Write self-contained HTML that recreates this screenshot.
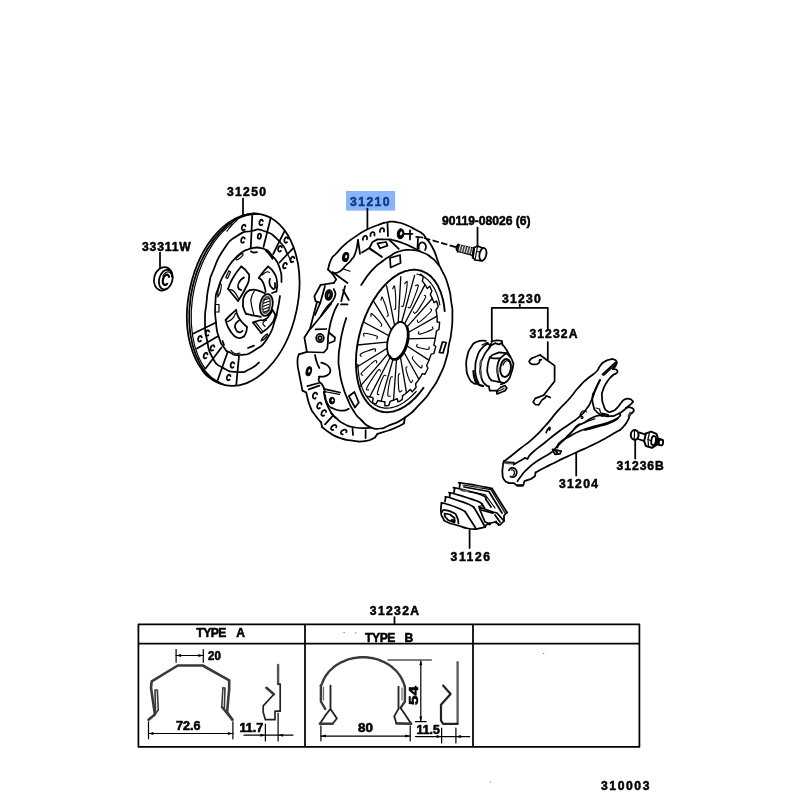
<!DOCTYPE html>
<html><head><meta charset="utf-8">
<style>
html,body{margin:0;padding:0;background:#fff;}
body{width:800px;height:800px;overflow:hidden;font-family:"Liberation Sans",sans-serif;}
svg{display:block;position:absolute;left:0;top:0;will-change:transform;}
.l{fill:none;stroke:#000;stroke-width:1.75;stroke-linecap:round;stroke-linejoin:round;}
.t{fill:none;stroke:#000;stroke-width:1.2;stroke-linecap:round;stroke-linejoin:round;}
.k{fill:none;stroke:#000;stroke-width:2.2;stroke-linecap:round;stroke-linejoin:round;}
.w{fill:#fff;stroke:#000;stroke-width:1.75;stroke-linecap:round;stroke-linejoin:round;}
.b{fill:#000;stroke:#000;stroke-width:1;stroke-linejoin:round;}
.g{fill:none;stroke:#555;stroke-width:2;stroke-linecap:round;stroke-linejoin:round;}
text{font-family:"Liberation Sans",sans-serif;font-weight:bold;font-size:13.5px;fill:#000;stroke:#000;stroke-width:0.55px;}
</style></head><body>
<svg width="800" height="800" viewBox="0 0 800 800">
<!-- labels -->
<rect x="346" y="191" width="49.1" height="19.6" fill="#8ab4f8"/>
<text transform="translate(227,196.3) scale(0.9,1)" textLength="43.3" lengthAdjust="spacing">31250</text>
<text transform="translate(350.1,206.3) scale(0.9,1)" textLength="43.8" lengthAdjust="spacing" style="fill:#0d3b8c;stroke:#0d3b8c">31210</text>
<text transform="translate(142,251) scale(0.9,1)" textLength="54.2" lengthAdjust="spacing">33311W</text>
<text transform="translate(442,225.4) scale(0.9,1)" textLength="98.3" lengthAdjust="spacing">90119-08026 (6)</text>
<text transform="translate(501.9,303) scale(0.9,1)" textLength="43.2" lengthAdjust="spacing">31230</text>
<text transform="translate(529.4,338.4) scale(0.9,1)" textLength="53.4" lengthAdjust="spacing">31232A</text>
<text transform="translate(558.9,488.4) scale(0.9,1)" textLength="43.4" lengthAdjust="spacing">31204</text>
<text transform="translate(616.6,470.4) scale(0.9,1)" textLength="52.4" lengthAdjust="spacing">31236B</text>
<text transform="translate(450.6,560.6) scale(0.9,1)" textLength="43.8" lengthAdjust="spacing">31126</text>
<text transform="translate(369.8,615) scale(0.9,1)" textLength="54.7" lengthAdjust="spacing">31232A</text>
<text transform="translate(196.3,637) scale(0.9,1)" textLength="33.3" lengthAdjust="spacing">TYPE</text>
<text transform="translate(236.3,637) scale(0.9,1)" textLength="9.1" lengthAdjust="spacing">A</text>
<text transform="translate(365.1,641.6) scale(0.9,1)" textLength="33.6" lengthAdjust="spacing">TYPE</text>
<text transform="translate(404.5,641.6) scale(0.9,1)" textLength="8.7" lengthAdjust="spacing">B</text>
<text transform="translate(601,789.6) scale(0.9,1)" textLength="53.8" lengthAdjust="spacing">310003</text>
<path class="l" d="M243 198.5L243 216"/>
<path class="l" d="M367.4 208.5L367.4 228.5"/>
<path class="l" d="M477.5 227.5L477.5 246.5"/>
<!-- table -->
<path class="l" d="M138.4 624.4H639.4V746.9H138.4Z M138.4 643.5H639.4 M305 624.4V746.9 M473 624.4V746.9"/>
<path class="l" d="M394.5 617L394.5 624"/>
<!-- disc -->
<ellipse class="l" cx="243.2" cy="299.8" rx="54.4" ry="87.3" transform="rotate(12 243.2 299.8)"/>
<path class="l" d="M222.8 384.2C220.4 383 220.2 383.5 215.6 380.6C210.9 377.6 213.1 379.3 209 375.3C204.8 371.2 206.7 373.4 203.1 368.4C199.6 363.3 201.2 366 198.2 360C195.3 354 196.6 357.1 194.3 350.4C192.1 343.6 193 347.1 191.5 339.7C190 332.3 190.5 336 189.8 328.2C189.1 320.3 189.2 324.2 189.3 316C189.3 307.8 189.1 311.9 190 303.6C190.8 295.2 190.2 299.3 191.8 291C193.5 282.7 192.5 286.8 194.8 278.7C197.2 270.6 195.9 274.5 198.9 266.8C202 259.1 200.3 262.8 204 255.6C207.6 248.5 205.7 251.8 209.9 245.4C214.1 238.9 211.9 241.9 216.6 236.3C221.3 230.7 218.9 233.2 223.9 228.6C229 223.9 226.4 225.9 231.7 222.4C237 218.8 234.3 220.3 239.8 217.8C245.2 215.3 242.5 216.3 247.9 215C253.4 213.7 253.4 214.3 256.1 214"/>
<path class="t" d="M205.2 368.6C203.6 365.9 203.2 366.3 200.3 360.4C197.4 354.5 198.7 357.6 196.4 351C194.2 344.3 195.1 347.7 193.6 340.5C192.1 333.2 192.6 336.9 191.9 329.2C191.1 321.5 191.3 325.3 191.3 317.3C191.3 309.3 191.1 313.3 191.8 305.1C192.6 296.9 192 300.9 193.5 292.7C195.1 284.6 194.1 288.5 196.4 280.5C198.6 272.6 197.3 276.4 200.2 268.8C203.1 261.1 201.5 264.8 205.1 257.6C208.6 250.5 206.7 253.9 210.8 247.4C214.8 240.9 212.7 243.9 217.2 238.2C221.7 232.5 219.4 235.1 224.3 230.3C229.2 225.5 229.3 226 231.8 223.9"/>
<path class="t" d="M227 231C228.7 229 228.7 228.5 232 225C235.3 221.5 235.3 221.9 237 220.4"/>
<path class="k" d="M241.7 216.2C244.5 215.5 244.6 214.8 250 214C255.4 213.2 255.3 213.9 258 213.9"/>
<path class="k" d="M202.5 370C204 371.8 203.7 372.5 207 375.5C210.3 378.5 210.7 377.8 212.5 379"/>
<path class="l" d="M259 362.5C256 364.7 257.2 365.8 250 369C242.8 372.2 246.7 372.5 237.5 372C228.3 371.5 230.8 372.3 222.5 367.5C214.2 362.7 217.7 366.7 212.5 357.5C207.3 348.3 209.5 351.8 207 340C204.5 328.2 205.2 334.5 205 322C204.8 309.5 205.2 314.8 206.5 302.5C207.8 290.2 206.7 295.8 209 285C211.3 274.2 208.5 282 213.5 270C218.5 258 216.2 260.3 224 249C231.8 237.7 227.8 242 237 236C246.2 230 242.5 232.7 251.5 231C260.5 229.3 254.8 227.7 264 231C273.2 234.3 271.2 233.3 279 241C286.8 248.7 284.7 249.7 287.5 254"/>
<path class="l" d="M250 248.5C254.2 248.5 255 246 262.5 248.5C270 251 266.7 249.2 272.5 256C278.3 262.8 277 260.3 280 269C283 277.7 281 277.7 281.5 282"/>
<path class="l" d="M280 296C279.2 300.7 279.2 302 277.5 310C275.8 318 278.3 310.7 275 320C271.7 329.3 274.2 328 267.5 338C260.8 348 264.2 344.3 255 350C245.8 355.7 248.3 354.2 240 355C231.7 355.8 235.3 355 230 352.5C224.7 350 227.7 352.5 224 347.5C220.3 342.5 221.7 345.8 219 337.5C216.3 329.2 217.2 334.2 216 322.5C214.8 310.8 214.6 314.2 215.4 302.5C216.2 290.8 215 298 218.5 287.5C222 277 219.7 281.5 226 271C232.3 260.5 229.5 263.5 237.5 256C245.5 248.5 245.8 251 250 248.5"/>
<path class="k" d="M266 250.5C267.2 251.7 267.3 251.3 269.5 254C271.7 256.7 271.5 257 272.5 258.5"/>
<path class="l" d="M252.3 214.5L250.8 247.5"/>
<path class="l" d="M270.8 217.5L263.5 247"/>
<path class="l" d="M284.6 230.8L273.2 254"/>
<path class="l" d="M293.2 248.2L279.5 262.5"/>
<path class="t" d="M287.5 254L289.5 258L291 262.5"/>
<path class="l" d="M193.5 333.5L216 322.5"/>
<path class="l" d="M197 348.5L217.5 336.5"/>
<path class="l" d="M205.5 368.5L221.5 347.5"/>
<path class="l" d="M217.5 380.5L227.5 352.5"/>
<path class="l" d="M236.3 384.5L239 356"/>
<path class="l" d="M244.6 229.6C244.2 229.8 244.2 230.1 243.5 230.2C242.8 230.3 243 230.4 242.5 229.9C241.9 229.4 242.1 229.6 241.9 228.7C241.8 227.7 241.7 228.1 242 227C242.3 226 242.1 226.3 242.7 225.6C243.3 224.8 243.1 225 243.8 224.8C244.6 224.6 244.3 224.6 244.9 225C245.5 225.4 245.3 225.7 245.5 226.1"/>
<path class="l" d="M262.3 224.5C261.9 224.8 261.9 225.1 261.2 225.2C260.5 225.4 260.8 225.5 260.2 225C259.6 224.5 259.8 224.8 259.5 223.8C259.3 222.9 259.3 223.2 259.5 222.2C259.7 221.1 259.5 221.5 260.1 220.7C260.6 219.9 260.4 220.1 261.1 219.8C261.8 219.6 261.6 219.5 262.2 219.9C262.8 220.3 262.7 220.6 262.9 221"/>
<path class="l" d="M243.9 242.1C243.5 242.3 243.5 242.6 242.8 242.7C242 242.8 242.3 242.9 241.7 242.4C241.2 241.9 241.3 242.1 241.2 241.2C241 240.2 241 240.6 241.3 239.5C241.5 238.5 241.4 238.8 242 238.1C242.6 237.3 242.4 237.5 243.1 237.3C243.8 237.1 243.6 237.1 244.1 237.5C244.7 237.9 244.6 238.2 244.8 238.6"/>
<path class="l" d="M287.1 242.1C286.7 242.3 286.7 242.6 286 242.7C285.3 242.8 285.5 242.9 285 242.4C284.4 241.9 284.6 242.1 284.4 241.2C284.3 240.2 284.2 240.6 284.5 239.5C284.8 238.5 284.6 238.8 285.2 238.1C285.8 237.3 285.6 237.5 286.3 237.3C287.1 237.1 286.8 237.1 287.4 237.5C288 237.9 287.8 238.2 288 238.6"/>
<path class="l" d="M280.9 250.8C280.5 251.1 280.5 251.4 279.8 251.5C279 251.6 279.3 251.7 278.7 251.1C278.2 250.6 278.3 250.9 278.2 249.9C278 249 278 249.3 278.3 248.3C278.5 247.2 278.4 247.6 279 246.8C279.6 246.1 279.4 246.2 280.1 246C280.8 245.9 280.6 245.8 281.1 246.3C281.7 246.7 281.6 247 281.8 247.4"/>
<path class="l" d="M293.2 261.6C292.8 261.7 292.7 262.1 292 262.1C291.3 262.1 291.5 262.2 291 261.7C290.5 261.1 290.6 261.4 290.6 260.4C290.5 259.4 290.4 259.8 290.8 258.8C291.2 257.8 291 258.1 291.7 257.4C292.3 256.7 292.1 256.8 292.8 256.7C293.6 256.6 293.3 256.5 293.9 257C294.4 257.5 294.2 257.8 294.4 258.2"/>
<path class="l" d="M285.7 267.8C285.3 267.9 285.2 268.3 284.5 268.3C283.8 268.3 284 268.4 283.5 267.9C283 267.3 283.1 267.6 283.1 266.6C283 265.6 282.9 266 283.3 265C283.7 264 283.5 264.3 284.2 263.6C284.8 262.9 284.6 263 285.3 262.9C286.1 262.8 285.8 262.7 286.4 263.2C286.9 263.7 286.7 264 286.9 264.4"/>
<path class="l" d="M200.9 340.8C200.5 341.1 200.5 341.4 199.8 341.5C199 341.6 199.3 341.7 198.7 341.1C198.2 340.6 198.3 340.9 198.2 339.9C198 339 198 339.3 198.3 338.3C198.5 337.2 198.4 337.6 199 336.8C199.6 336.1 199.4 336.2 200.1 336C200.8 335.9 200.6 335.8 201.1 336.3C201.7 336.7 201.6 337 201.8 337.4"/>
<path class="l" d="M208.4 335.1C208 335.3 208 335.6 207.2 335.7C206.5 335.8 206.8 335.9 206.2 335.4C205.7 334.9 205.8 335.1 205.7 334.2C205.5 333.2 205.5 333.6 205.8 332.5C206 331.5 205.9 331.8 206.5 331.1C207.1 330.3 206.9 330.5 207.6 330.3C208.3 330.1 208.1 330.1 208.6 330.5C209.2 330.9 209.1 331.2 209.3 331.6"/>
<path class="l" d="M206.3 357.8C205.9 357.9 205.8 358.3 205.1 358.3C204.4 358.3 204.6 358.4 204.1 357.9C203.6 357.3 203.7 357.6 203.7 356.6C203.6 355.6 203.5 356 203.9 355C204.3 354 204.1 354.3 204.8 353.6C205.4 352.9 205.2 353 205.9 352.9C206.7 352.8 206.4 352.7 207 353.2C207.5 353.7 207.3 354 207.5 354.4"/>
<path class="l" d="M213.2 350.2C212.8 350.3 212.7 350.7 212 350.7C211.3 350.7 211.5 350.8 211 350.3C210.5 349.7 210.6 350 210.6 349C210.5 348 210.4 348.4 210.8 347.4C211.2 346.4 211 346.7 211.7 346C212.3 345.3 212.1 345.4 212.8 345.3C213.6 345.2 213.3 345.1 213.9 345.6C214.4 346.1 214.2 346.4 214.4 346.8"/>
<path class="l" d="M233.5 367C233.2 367.3 233.2 367.6 232.5 367.7C231.8 367.9 232 368 231.4 367.5C230.9 367 231 367.3 230.8 366.3C230.5 365.4 230.5 365.7 230.7 364.7C230.9 363.6 230.8 364 231.3 363.2C231.9 362.4 231.7 362.6 232.4 362.3C233.1 362.1 232.8 362 233.4 362.4C234 362.8 233.9 363.1 234.2 363.5"/>
<path class="l" d="M229.6 379.6C229.2 379.8 229.2 380.1 228.5 380.2C227.8 380.3 228 380.4 227.5 379.9C226.9 379.4 227.1 379.6 226.9 378.7C226.8 377.7 226.7 378.1 227 377C227.3 376 227.1 376.3 227.7 375.6C228.3 374.8 228.1 375 228.8 374.8C229.6 374.6 229.3 374.6 229.9 375C230.5 375.4 230.3 375.7 230.5 376.1"/>
<ellipse class="l" cx="259.4" cy="236.2" rx="1.6" ry="2.6" transform="rotate(10 259.4 236.2)"/>
<path class="l" d="M250.8 251.3L253.5 252.6L257 252.2"/>
<ellipse class="t" cx="239.5" cy="256.8" rx="1.3" ry="4.5" transform="rotate(50 239.5 256.8)"/>
<path class="t" d="M225.8 277.5L228.8 270.8L230.5 272L227.5 278.5Z"/>
<path class="t" d="M217.8 297C218 294.7 217.3 294.3 218.3 290C219.3 285.7 220.1 283.7 220.8 284C221.5 284.3 221.5 286.7 220.5 291C219.5 295.3 218.7 295 217.8 297"/>
<path class="t" d="M215.6 304.5L219 304.5L219 312L215.8 312"/>
<path class="l" d="M222.5 341L224 345"/>
<path class="t" d="M231 350.5C232.3 351.5 232 352.7 235 353.5C238 354.3 238.3 353.2 240 353"/>
<path class="l" d="M248 348L254 345.6"/>
<path class="t" d="M261 341C262.3 340.2 262.6 340.8 264.8 338.5C267 336.2 267.9 334.5 267.5 334C267.1 333.5 265.7 334.7 263.5 337C261.3 339.3 261.8 339.7 261 341"/>
<path class="l" d="M241.2 266.5C243.2 268.3 244.4 268.1 247 271.9C249.6 275.7 249.5 272.6 249 278C248.5 283.4 249.3 280.3 245.6 288C241.9 295.7 240.5 296.7 238 301"/>
<path class="l" d="M238 301L228 288.8"/>
<path class="l" d="M228 288.8C229.8 284.8 229.1 284.4 233.5 277C237.9 269.6 238.7 270 241.2 266.5"/>
<path class="t" d="M229.5 289.5C231 290.2 231 288.5 234 291.5C237 294.5 237 296.2 238.5 298.5"/>
<path class="l" d="M244 277.5C242.5 278.8 241.5 278.2 239.6 281.5C237.7 284.8 237.6 284.7 238.2 287.5C238.8 290.3 240.2 289.2 241.2 290"/>
<path class="l" d="M258.8 278C260.3 275.8 260.4 275.3 263.5 271.5C266.6 267.7 266.5 268.2 268 266.5"/>
<path class="l" d="M268 266.5C269.9 268.5 270.8 267.5 273.8 272.5C276.8 277.5 276.1 275.2 277 281.5C277.9 287.8 276.6 288.2 276.4 291.5"/>
<path class="l" d="M258.8 278C260 279.2 260.4 278 262.5 281.5C264.6 285 264 285 265 288.5C266 292 265.3 290.8 265.5 292"/>
<path class="l" d="M276.4 291.5L272 293"/>
<path class="t" d="M262 275C263.5 274 264 272.8 266.5 272C269 271.2 268.5 272.3 269.5 272.5"/>
<path class="l" d="M270 278.8C269.8 280.2 269.1 280.2 269.5 283C269.9 285.8 269.6 285.2 271.2 287C272.9 288.8 273.2 289.8 274.5 288.5C275.8 287.2 274.8 284.8 275 283"/>
<path class="l" d="M236.2 310C236.7 311.7 235.8 311.2 237.5 315C239.2 318.8 238.1 317.2 241.2 321.2C244.4 325.2 245.1 325.1 247 327"/>
<path class="l" d="M247 327C246.7 328.8 247.1 329.3 246 332.5C244.9 335.7 244.5 335.2 243.8 336.5"/>
<path class="l" d="M243.8 336.5C242 337 241.8 338.3 238.5 338C235.2 337.7 235.3 336.4 233.8 335.6"/>
<path class="l" d="M233.8 335.6C232 333.1 231.2 333.2 228.5 328C225.8 322.8 226.6 322.7 225.6 320"/>
<path class="l" d="M225.6 320C227.4 318.2 227.4 317.8 231 314.5C234.6 311.2 234.5 311.5 236.2 310"/>
<path class="t" d="M227.5 321.5C229 320.7 229.3 321.7 232 319C234.7 316.3 234.3 315.3 235.5 313.5"/>
<path class="l" d="M239 320.5C237.8 321.8 236.3 321.5 235.3 324.5C234.3 327.5 234.8 326.9 236 329.5C237.2 332.1 236.8 331.8 239 332.3C241.2 332.8 241.3 331.4 242.5 331"/>
<path class="l" d="M253 322.5L261.2 333"/>
<path class="l" d="M253 322.5C255 321.8 255 321.5 259 320.5C263 319.5 261.5 321.3 265 319.5C268.5 317.7 267 318.2 269.5 315C272 311.8 271.5 311.7 272.5 310"/>
<path class="l" d="M272.5 310L275.5 315"/>
<path class="l" d="M275.5 315C274 318.2 275.8 318.5 271 324.5C266.2 330.5 264.5 330.2 261.2 333"/>
<path class="t" d="M255.3 321.8L262.5 331"/>
<path class="t" d="M266.5 320C265.3 321 263.5 320.8 263 323C262.5 325.2 264.3 325.3 265 326.5"/>
<path class="l" d="M250 290C248.3 291.5 247.3 290.3 245 294.5C242.7 298.7 243.3 297.5 243 302.5C242.7 307.5 242.9 305.8 244 309.5C245.1 313.2 245.5 312.3 246.2 313.8"/>
<path class="l" d="M250 290C252.5 290.1 252.5 289.1 257.5 290.3C262.5 291.5 262.5 292.4 265 293.5"/>
<path class="l" d="M246.2 313.8C248.3 314.3 247.6 314.3 252.5 315.3C257.4 316.3 258.2 316.3 261 316.8"/>
<path class="t" d="M254.3 291C253.4 293 252.6 292.8 251.6 297C250.6 301.2 250.6 297.7 251.3 303.5C252 309.3 253 310.8 253.8 314.5"/>
<ellipse class="l" cx="266.3" cy="305" rx="6.3" ry="11" transform="rotate(10 266.3 305)"/>
<ellipse class="g" cx="266.3" cy="305" rx="3.8" ry="8.3" transform="rotate(10 266.3 305)"/>
<path class="t" d="M263.6 300.2L269 298.2"/>
<path class="t" d="M263.6 303.2L269 301.2"/>
<path class="t" d="M263.6 306.2L269 304.2"/>
<path class="t" d="M263.6 309.2L269 307.2"/>
<path class="t" d="M263.6 312.2L269 310.2"/>
<!-- cover -->
<path class="l" d="M328 269.5C329.1 266.1 328.5 264.7 331.2 259.4C334 254.1 331.7 258.5 336.2 253.5C340.8 248.5 338.8 249.9 345 244.4C351.2 238.9 347.9 241.7 355 236.9C362.1 232.1 358.8 233.9 366.2 230C373.8 226.1 370.8 227.8 377.5 225.3C384.2 222.8 380.4 223.6 386.2 222.5C392.1 221.4 388.3 221.1 395 221.9C401.7 222.7 399.2 222.3 406.2 225C413.3 227.7 410.8 227.1 416.2 230C421.7 232.9 419.4 231.2 422.5 233.8C425.6 236.2 422.2 232.9 425.5 237.5C428.8 242.1 428.5 240 432.5 247.5C436.5 255 435.3 254.2 437.5 260C439.7 265.8 438.5 263.3 439 265"/>
<path class="l" d="M328 269.5L332.5 273.8L336.2 279.4L333.8 283"/>
<path class="l" d="M333.8 283C331.7 283.2 331.9 283.1 327.5 283.8C323.1 284.4 322.9 284.6 320.6 285"/>
<path class="l" d="M320.6 285L314.4 296.2L315.6 301.2L320.3 302.8"/>
<path class="l" d="M325 286L320.3 302.8L315 315"/>
<path class="l" d="M333.8 289C334 291.8 337.1 291.2 334.6 297.5C332.1 303.8 330.8 301.8 326.2 308C321.7 314.2 322.8 313.3 321 316"/>
<ellipse class="l" cx="328.8" cy="295" rx="3.3" ry="5" transform="rotate(10 328.8 295)"/>
<ellipse class="k" cx="328.9" cy="295.2" rx="1.6" ry="3.2" transform="rotate(10 328.9 295.2)"/>
<path class="l" d="M317 302L310 328.8L304.4 337.5L306.9 351.9L298.8 354.4"/>
<path class="l" d="M331.2 303.8L310.6 328.8"/>
<path class="l" d="M298.8 354.4C298.3 357.1 297.3 355.6 297.5 362.5C297.7 369.4 297.7 365.6 299.4 375C301.1 384.4 301.5 385.4 302.5 390.6"/>
<path class="l" d="M302.5 390.6L306.2 392.5"/>
<path class="l" d="M306.2 392.5C307.5 397.1 307.1 398.8 310 406.2C312.9 413.8 311.2 409.6 315 415C318.8 420.4 319.2 420 321.2 422.5"/>
<path class="l" d="M321.2 422.5L322 427"/>
<path class="l" d="M322 427C324.7 429 324 429.3 330 433C336 436.7 332.5 435.5 340 438C347.5 440.5 344.2 439.5 352.5 440.6C360.8 441.7 357.5 442.3 365 441.2C372.5 440.2 371.7 438.8 375 437.5"/>
<path class="l" d="M375 437.5L377.5 433.8"/>
<path class="l" d="M377.5 433.8C381.7 432.5 383.5 432.2 390 430C396.5 427.8 392.4 429.2 397 427C401.6 424.8 401.5 424.7 403.8 423.5"/>
<path class="l" d="M403.8 423.5L405 417.5"/>
<path class="l" d="M358 240C357.2 244.2 357.8 245.8 355.5 252.5C353.2 259.2 354.3 255.8 351.2 260C348.2 264.2 350 261.2 346.2 265C342.5 268.8 344.4 268.4 340 271.2C335.6 274.1 335.3 272.8 333 273.5"/>
<path class="l" d="M358 240L360 253.8"/>
<ellipse class="b" cx="345.6" cy="257" rx="3" ry="4.6" transform="rotate(15 345.6 257)"/>
<ellipse class="t" cx="346.1" cy="256.7" rx="0.8" ry="1.7" transform="rotate(15 346.1 256.7)" style="stroke:#fff;fill:#fff;stroke-width:0.3"/>
<path class="l" d="M332.5 272L347.5 283"/>
<path class="t" d="M342.5 268.8L350 271.2"/>
<path class="l" d="M362.9 239.8C363 239.2 362.8 239.1 363.1 238C363.5 236.9 363.3 237.2 364 236.5C364.7 235.8 364.5 235.9 365.2 235.8C366 235.7 365.8 235.6 366.4 236.2C367 236.8 366.8 236.5 367 237.5C367.2 238.5 367 238.7 366.9 239.3"/>
<path class="l" d="M370.4 236C370.5 235.4 370.3 235.3 370.6 234.2C371 233.1 370.8 233.5 371.5 232.7C372.2 232 372 232.2 372.8 232.1C373.5 232 373.3 231.9 373.9 232.5C374.5 233 374.3 232.7 374.5 233.8C374.7 234.8 374.5 234.9 374.4 235.5"/>
<path class="l" d="M379.9 232C380 231.4 379.8 231.3 380.1 230.2C380.5 229.1 380.3 229.5 381 228.7C381.7 228 381.5 228.2 382.2 228.1C383 228 382.8 227.9 383.4 228.5C384 229 383.8 228.7 384 229.8C384.2 230.8 384 230.9 383.9 231.5"/>
<path class="l" d="M387.5 223.5L388 236"/>
<path class="l" d="M362 252.5L369.4 248L372.5 242L377.5 239.4L391 239.5"/>
<path class="l" d="M369.4 248L382 257"/>
<path class="l" d="M377.5 243.3L386 242L387.5 245.6L380 248.3Z"/>
<path class="l" d="M389 239.5L398.8 248.8"/>
<path class="t" d="M370 249.4L381.2 256.2"/>
<path class="l" d="M391 239.5C394.8 240.7 394.9 240.2 402.5 243C410.1 245.8 407.9 245.2 413.8 248C419.6 250.8 417.9 250.2 420 251.2"/>
<ellipse class="b" cx="400.6" cy="233.8" rx="3.3" ry="5" transform="rotate(10 400.6 233.8)"/>
<ellipse class="t" cx="401.1" cy="233.4" rx="0.9" ry="1.9" transform="rotate(10 401.1 233.4)" style="stroke:#fff;fill:#fff;stroke-width:0.3"/>
<path class="l" d="M404 233.8L412.5 233.8"/>
<path class="l" d="M410 230.3L410 239.4"/>
<path class="l" d="M416.2 236.9L422.5 237.5"/>
<path class="l" d="M418 237.5L417.5 248.5"/>
<path class="l" d="M418.9 248.6C418.8 247.9 418.6 247.9 418.7 246.7C418.8 245.4 418.7 245.9 419.1 244.8C419.6 243.7 419.3 244.1 420.1 243.4C420.9 242.6 420.5 242.8 421.4 242.5C422.4 242.2 422 242.3 422.9 242.5C423.9 242.7 423.5 242.5 424.3 243.2C425.1 243.9 424.8 243.5 425.4 244.6C425.9 245.6 425.7 245.1 425.9 246.4C426 247.6 426 247.1 425.8 248.3C425.5 249.5 425.3 249.4 425.1 250"/>
<path class="l" d="M424 238L456.5 247.3" stroke-dasharray="6.5 2.4" style="stroke-linecap:butt"/>
<path class="l" d="M315 355C315.6 357.5 315.4 358.2 316.9 362.5C318.4 366.8 318.6 366.2 319.4 368"/>
<path class="l" d="M321.2 362.7C322.2 363 322.4 362.8 324.3 363.6C326.3 364.5 325.4 364 327 365.1C328.6 366.3 328 365.7 329 367.1C330 368.4 329.7 367.8 330.1 369.2C330.5 370.6 330.5 370 330.2 371.4C330 372.8 330.3 372.2 329.4 373.4C328.5 374.6 329 374.1 327.6 375C326.2 375.9 326.9 375.6 325.1 376.1C323.2 376.7 324.1 376.5 322 376.6C319.9 376.7 319.8 376.5 318.8 376.5"/>
<path class="l" d="M319.4 377.5C319.3 378.7 317.8 378.2 319 381C320.2 383.8 321 382.2 323 386C325 389.8 324.3 390.3 325 392.5"/>
<path class="l" d="M306.9 352L323.8 352.5L327.3 348.5L328 341.2"/>
<path class="l" d="M328 341.2C328.2 338.3 327.2 340.8 328.8 332.5C330.2 324.2 329.4 325.8 332.5 316.2C335.6 306.7 336.2 307.9 338 303.8"/>
<path class="l" d="M315.6 329.4L326.2 329"/>
<ellipse class="l" cx="320" cy="338" rx="3.8" ry="4.2"/>
<ellipse class="l" cx="320" cy="338" rx="1.7" ry="2"/>
<path class="l" d="M329.4 333L335 337.5L334.5 341L329.4 343"/>
<ellipse class="b" cx="308.8" cy="371.2" rx="2.6" ry="4.6" transform="rotate(15 308.8 371.2)"/>
<ellipse class="t" cx="309.2" cy="370.9" rx="0.7" ry="1.7" transform="rotate(15 309.2 370.9)" style="stroke:#fff;fill:#fff;stroke-width:0.3"/>
<path class="l" d="M307.5 386.2L318.8 383"/>
<path class="l" d="M308.8 389.4L319.4 385.6"/>
<path class="l" d="M323.8 392C324.6 395.5 323.8 395.7 326.2 402.5C328.8 409.3 327.9 407.3 331.2 412.5C334.6 417.7 332.1 414.2 336.2 418C340.4 421.8 337.5 420.6 343.8 423.8C350 426.9 346.2 426.1 355 427.5C363.8 428.9 365 427.8 370 428"/>
<path class="l" d="M325 424.4L333 415.6"/>
<path class="l" d="M331 413L335.5 418"/>
<path class="l" d="M352.5 428.8L353 435"/>
<path class="l" d="M365.6 430L365.6 438"/>
<path class="l" d="M315.7 398C315.3 398.2 315.3 398.5 314.5 398.6C313.7 398.6 313.9 398.7 313.4 398.1C312.8 397.5 312.9 397.8 312.9 396.7C312.8 395.7 312.7 396 313.1 394.9C313.5 393.8 313.3 394.1 314.1 393.4C314.8 392.6 314.5 392.8 315.4 392.6C316.2 392.5 315.9 392.4 316.5 393C317.1 393.5 316.9 393.8 317.1 394.3"/>
<path class="l" d="M319.9 408C319.5 408.2 319.4 408.5 318.6 408.5C317.8 408.5 318 408.6 317.6 407.9C317.1 407.3 317.2 407.6 317.2 406.5C317.2 405.5 317.1 405.8 317.6 404.8C318.1 403.7 317.9 404 318.7 403.3C319.5 402.6 319.2 402.8 320 402.7C320.8 402.6 320.6 402.5 321.1 403.1C321.7 403.7 321.4 404 321.6 404.4"/>
<path class="l" d="M324.1 415.5C323.6 415.6 323.5 415.9 322.7 415.8C321.9 415.7 322.1 415.9 321.7 415.2C321.3 414.5 321.4 414.8 321.5 413.7C321.6 412.7 321.4 413 322 412C322.6 411 322.4 411.3 323.2 410.7C324.1 410 323.8 410.1 324.6 410.2C325.4 410.2 325.2 410.1 325.7 410.7C326.2 411.3 325.9 411.6 326.1 412"/>
<path class="l" d="M333.2 429.9C332.7 429.9 332.5 430.2 331.8 429.8C331.1 429.4 331.2 429.6 331.1 428.8C330.9 428 330.9 428.3 331.4 427.4C331.8 426.4 331.6 426.7 332.5 426C333.4 425.2 333 425.4 334.1 425.1C335.1 424.8 334.8 424.8 335.5 425.1C336.3 425.4 336.1 425.2 336.4 426C336.6 426.7 336.3 426.9 336.2 427.4"/>
<path class="l" d="M342.8 434.3C342.3 434.2 342.1 434.4 341.4 433.9C340.8 433.5 340.9 433.7 340.9 432.9C340.9 432 340.8 432.3 341.4 431.5C342 430.6 341.7 430.9 342.8 430.3C343.8 429.7 343.4 429.8 344.5 429.7C345.5 429.6 345.2 429.6 345.9 430C346.6 430.4 346.5 430.2 346.6 431C346.7 431.7 346.3 431.9 346.2 432.3"/>
<path class="l" d="M323.8 388.8L340 392.5"/>
<path class="t" d="M324 391.5L339.5 394.3"/>
<path class="l" d="M325 395C325.8 397.9 324.6 399.2 327.5 403.8C330.4 408.3 328.8 406.5 333.8 408.8C338.8 411 337.5 410.6 342.5 410.6C347.5 410.6 346.7 409.4 348.8 408.8"/>
<ellipse class="b" cx="332" cy="400.6" rx="2.6" ry="3.4"/>
<ellipse class="t" cx="332.5" cy="400.3" rx="0.7" ry="1.3" style="stroke:#fff;fill:#fff;stroke-width:0.3"/>
<path class="l" d="M348.8 396.2L354.4 392L358.8 402.5L355 407.5Z"/>
<path class="l" d="M345 286.2L341.2 301.2"/>
<path class="l" d="M343 290L348.8 300"/>
<path class="l" d="M341 304.4L347.5 304.4"/>
<path class="l" d="M361.2 285C364.6 280.4 364.2 279.2 371.2 271.2C378.3 263.3 376.2 266.2 382.5 261.2C388.8 256.2 384.6 259.5 390 256.2C395.4 253 391.7 253.6 398.8 251.5C405.8 249.4 403.3 249.7 411.2 250C419.2 250.3 415.8 250 422.5 252.5C429.2 255 426.2 253.8 431.2 257.5C436.2 261.2 433.8 259.2 437.5 263.8C441.2 268.3 438.8 264.2 442.2 271.2C445.7 278.2 444.9 274.6 447.9 284.8C450.9 294.9 449.8 291.1 451.2 301.6C452.8 312.1 452.4 305.8 452.4 316.2C452.4 326.7 452.4 323.6 451.2 333C450.1 342.4 450.7 335.8 449 344.4C447.3 353 449.2 348.6 446.2 358.8C443.2 368.9 445 364.6 440 375C435 385.4 437.9 380.4 431.2 390C424.6 399.6 428.8 394.6 420 403.8C411.2 412.9 415.4 410.2 405 417.5C394.6 424.8 397.1 421.8 388.8 425.5C380.4 429.2 386.2 428 380 428.5C373.8 429 376.2 429.8 370 427C363.8 424.2 366.7 425.2 361.2 420C355.8 414.8 358.3 418.3 353.8 411.2C349.2 404.2 351.2 407.5 347.5 398.8C343.8 390 345.2 394.6 342.5 385C339.8 375.4 340.8 379 339.5 370C338.2 361 338.4 366.3 338.6 358C338.8 349.7 338.7 353.9 340 345C341.3 336.1 340.4 340.2 342.5 331.2C344.6 322.2 345 322.4 346.2 318"/>
<path class="l" d="M390 258L400 255L400.6 263L390.6 267.5Z"/>
<path class="l" d="M442.5 342L446.2 342.5L443 353L439.4 352.5Z"/>
<path class="l" d="M423.5 387.9C421.8 390 421.9 390.3 418.4 394.4C414.9 398.4 416.7 396.5 413.1 399.9C409.4 403.4 411.2 401.8 407.5 404.6C403.7 407.3 405.6 406.1 401.8 408.1C398 410.2 399.9 409.3 396.1 410.6C392.3 411.9 394.2 411.4 390.5 411.9C386.8 412.4 388.6 412.4 385 412.1C381.5 411.8 383.2 412.2 379.8 411.1C376.4 410 378 410.8 374.9 408.9C371.8 407.1 373.3 408.2 370.5 405.7C367.7 403.1 369 404.6 366.5 401.3C364.1 398.1 365.2 399.9 363.1 396C361.1 392.2 362 394.2 360.3 389.8C358.7 385.4 359.4 387.7 358.2 382.7C357 377.8 357.5 380.4 356.8 375C356.1 369.7 356.3 372.4 356.1 366.7C355.8 361.1 355.8 363.9 356.1 358C356.3 352.1 356.1 355.1 356.8 349.1C357.6 343 357.1 346 358.3 339.9C359.5 333.9 358.8 336.9 360.5 330.8C362.1 324.8 361.2 327.8 363.3 321.9C365.4 316.1 364.2 318.9 366.7 313.3C369.2 307.7 367.9 310.4 370.7 305.1C373.5 299.9 372 302.4 375.2 297.6C378.3 292.8 376.7 295 380.1 290.7C383.4 286.4 381.7 288.4 385.3 284.7C388.8 281 387.1 282.6 390.8 279.6C394.5 276.5 392.6 277.8 396.4 275.5C400.2 273.1 398.3 274.1 402.1 272.5C405.9 270.8 404 271.4 407.8 270.6C411.5 269.7 409.7 269.9 413.3 269.8C417 269.7 415.2 269.6 418.7 270.3C422.2 270.9 420.5 270.4 423.7 271.9C427 273.3 425.4 272.4 428.4 274.6C431.4 276.8 430 275.5 432.6 278.4C435.2 281.3 434 279.7 436.3 283.3C438.6 286.8 437.5 284.9 439.4 289.1C441.2 293.2 440.4 291 441.8 295.7C443.2 300.4 442.7 298 443.6 303.1C444.6 308.3 444.3 308.5 444.7 311.1" style="stroke-width:1.9"/>
<path class="t" d="M417 274.1C418.1 274.4 418.2 274.3 420.3 275.1C422.4 275.9 421.4 275.4 423.4 276.6C425.4 277.8 424.4 277.1 426.3 278.6C428.1 280.1 427.2 279.3 429 281.1C430.7 282.9 429.9 281.9 431.4 284C433 286.1 432.3 285 433.7 287.4C435.1 289.8 434.4 288.6 435.6 291.2C436.8 293.9 436.3 292.5 437.3 295.4C438.3 298.3 437.9 296.8 438.7 300C439.5 303.1 439.4 303.2 439.8 304.8"/>
<path class="t" d="M416.2 391.3C414.4 393.2 414.5 393.5 410.7 397C407 400.4 408.9 398.9 405.1 401.5C401.2 404.2 403.1 403.1 399.3 405C395.4 406.8 397.3 406.1 393.5 407.2C389.7 408.2 391.6 407.9 387.9 408.1C384.2 408.3 386 408.4 382.5 407.7C379 407 380.6 407.6 377.4 406.1C374.1 404.6 375.6 405.5 372.7 403.2C369.8 400.8 371.1 402.2 368.6 399.1C366 396 367.2 397.7 365 393.9C362.9 390.1 363.8 392.1 362.1 387.6C360.4 383.2 361.1 385.5 359.9 380.5C358.7 375.5 359.2 378.1 358.5 372.6C357.8 367.1 358 366.9 357.8 364.1"/>
<ellipse class="l" cx="397.4" cy="340.5" rx="9.5" ry="19" transform="rotate(14 397.4 340.5)"/>
<path class="k" d="M406.8 326.3C407.2 327.4 407.4 327.2 408 329.7C408.5 332.2 408.4 330.9 408.5 333.9C408.6 336.8 408.6 335.4 408.3 338.5C407.9 341.7 408.2 340.2 407.4 343.4C406.6 346.6 407.1 345.1 405.9 348.1C404.7 351.1 405.4 349.8 403.9 352.3C402.4 354.9 403.2 353.8 401.5 355.8C399.8 357.7 400.6 357 398.8 358.2C397.1 359.5 397.9 359.1 396.1 359.5C394.4 359.9 395.2 359.9 393.6 359.5C392 359.1 392.7 359.5 391.4 358.3C390 357.1 390.2 356.7 389.6 355.9"/>
<path class="l" d="M401.7 322L414.6 275.4" style="stroke-width:1.3"/>
<path class="l" d="M415.5 285.6C415.9 285.8 418.9 283.2 418.1 286.6C417.3 290 412.4 302.8 410.8 306.2C409.1 309.7 408.6 307.1 408.1 307.3" style="stroke-width:1.1"/>
<path class="l" d="M404.6 323.7L425 284.6" style="stroke-width:1.3"/>
<path class="l" d="M424.3 295.4C424.5 295.8 426.7 295.2 425.3 298C424 300.8 418.2 310.1 416.2 312.4C414.2 314.7 413.9 312 413.4 311.9" style="stroke-width:1.1"/>
<path class="l" d="M406.7 327.4L432.3 298.5" style="stroke-width:1.3"/>
<path class="l" d="M430.4 308.8C430.5 309.2 432.7 309.3 430.9 311.5C429 313.8 421.6 320.6 419.3 322.1C417.1 323.5 417.7 320.4 417.3 320.1" style="stroke-width:1.1"/>
<path class="l" d="M407.7 332.7L437 316.1" style="stroke-width:1.3"/>
<path class="l" d="M432.2 326.8C432.2 327.3 434.2 328.4 432.1 329.6C430 330.8 422 333.8 419.8 334.1C417.5 334.4 418.9 331.9 418.8 331.5" style="stroke-width:1.1"/>
<path class="l" d="M407.4 338.9L435.3 338.2" style="stroke-width:1.3"/>
<path class="l" d="M429 346.7C428.8 347.1 430.1 349.3 428.2 349.4C426.3 349.4 419.3 347.9 417.4 347C415.6 346.2 417.3 344.7 417.3 344.2" style="stroke-width:1.1"/>
<path class="l" d="M405.9 345.3L428.9 360.1" style="stroke-width:1.3"/>
<path class="l" d="M422.1 365.3C421.9 365.7 422.3 368.7 420.7 367.7C419.1 366.7 413.9 361.1 412.7 359.3C411.4 357.4 413 357 413.1 356.5" style="stroke-width:1.1"/>
<path class="l" d="M403.4 351.2L418.9 379.2" style="stroke-width:1.3"/>
<path class="l" d="M412.6 380.3C412.3 380.7 411.6 384 410.5 382.2C409.4 380.3 406.6 371.9 406 369.4C405.4 366.8 406.8 367.2 407 366.7" style="stroke-width:1.1"/>
<path class="l" d="M400.2 355.7L406.5 392.8" style="stroke-width:1.3"/>
<path class="l" d="M401.9 390.6C401.4 390.7 399.7 393.4 399.1 390.9C398.5 388.5 398.1 379 398.3 376.1C398.4 373.3 399.5 374.1 399.7 373.7" style="stroke-width:1.1"/>
<path class="l" d="M396.6 358.5L393.5 400.2" style="stroke-width:1.3"/>
<path class="l" d="M390.2 396.1C389.8 395.8 387.7 397.5 387.8 394.6C387.8 391.7 389.6 381.7 390.3 378.7C391.1 375.7 392 377.1 392.4 376.8" style="stroke-width:1.1"/>
<path class="l" d="M393.1 359L381.1 401.3" style="stroke-width:1.3"/>
<path class="l" d="M378.9 394.7C378.7 394.3 376.7 395.4 377.5 392.4C378.2 389.4 381.9 379.5 383.2 376.8C384.6 374 385.4 375.9 385.9 375.7" style="stroke-width:1.1"/>
<path class="l" d="M390.2 357.3L369.7 396.9" style="stroke-width:1.3"/>
<path class="l" d="M368.8 389.8C368.5 389.5 365.3 391.1 366.8 387.9C368.3 384.7 375.5 373.4 377.8 370.6C380.1 367.8 380.1 371 380.6 371.1" style="stroke-width:1.1"/>
<path class="l" d="M388.1 353.6L359.7 386.9" style="stroke-width:1.3"/>
<path class="l" d="M362.8 375.3C362.6 374.8 359.8 375.1 361.8 372.7C363.8 370.3 372.2 362.6 374.7 360.9C377.2 359.3 376.3 362.6 376.7 362.9" style="stroke-width:1.1"/>
<path class="l" d="M387.1 348.3L356.1 367.5" style="stroke-width:1.3"/>
<path class="l" d="M361.2 356.5C361.1 356 358.8 355 361 353.7C363.1 352.4 371.9 349.3 374.2 348.9C376.6 348.5 375.1 351.1 375.2 351.5" style="stroke-width:1.1"/>
<path class="l" d="M387.4 342.1L357.4 345" style="stroke-width:1.3"/>
<path class="l" d="M364.1 336.1C364.2 335.6 362.4 333.3 364.5 333.3C366.6 333.3 374.5 335.1 376.6 336C378.6 336.9 376.7 338.3 376.7 338.8" style="stroke-width:1.1"/>
<path class="l" d="M388.9 335.7L363.5 322" style="stroke-width:1.3"/>
<path class="l" d="M371 316.5C371.2 316 370.3 312.6 372 313.8C373.7 315.1 379.8 321.6 381.3 323.7C382.8 325.8 381 326 380.9 326.5" style="stroke-width:1.1"/>
<path class="l" d="M391.4 329.8L373.7 301.4" style="stroke-width:1.3"/>
<path class="l" d="M381 300.1C381.3 299.7 381.3 295.5 382.5 297.7C383.6 300 387.2 310.5 388 313.6C388.8 316.7 387.2 315.8 387 316.3" style="stroke-width:1.1"/>
<path class="l" d="M394.6 325.3L386.6 285.6" style="stroke-width:1.3"/>
<path class="l" d="M392.7 288.9C393 288.5 394.2 283.9 394.7 286.9C395.2 289.9 395.8 303.2 395.7 306.9C395.7 310.6 394.5 308.9 394.3 309.3" style="stroke-width:1.1"/>
<path class="l" d="M398.2 322.5L400.8 276.6" style="stroke-width:1.3"/>
<path class="l" d="M404.6 283.7C405.1 283.6 407.4 279.3 407.2 282.7C407.1 286.1 404.6 300.4 403.7 304.3C402.7 308.2 402 305.9 401.6 306.2" style="stroke-width:1.1"/>
<path class="l" d="M420.6 274.1L421.3 274.7L422 275.3L422.6 275.9L423.3 276.6L422.3 281.1L422.9 281.7L423.4 282.4L423.9 283.2L424.5 283.9L425 284.6L425.5 285.4L426 286.2L426.4 287L426.9 287.8L427.3 288.6L429.7 286.2L430.2 287.1L430.6 288L431 289L431.4 290L431.9 290.8L430.3 294.7L430.7 295.4L431.2 296.3L431.6 297.1L432 297.9L432.4 298.8L432.8 299.7L433.2 300.6L433.6 301.6L433.9 302.6L436.6 301.1L437 302.2L437.3 303.3L437.6 304.4L437.9 305.6L438.2 306.7L436 309.9L436.2 311L436.4 312.2L436.6 313.3L436.8 314.5L436.9 315.7L437 316.9L437.2 318.1L437.2 319.4L437.1 320.7L437.1 322.1L439.6 322.2L439.5 323.7L439.4 325.1L439.3 326.5L439.1 327.9L439 329.3L436.3 331.4L436.2 332.8L436 334.1L435.8 335.5L435.5 336.8L435.3 338.2L435 339.5L434.8 340.9L434.5 342.2L434.2 343.5L433.8 344.9L435.8 346.5L435.4 347.9L435 349.4L434.6 350.8L434.2 352.2L433.8 353.6L431.1 354.1L430.7 355.4L430.2 356.7L429.8 358L429.3 359.3L428.8 360.5L428.3 361.8L427.7 363L427.2 364.2L426.6 365.5L427.9 368.3L427.3 369.5L426.7 370.8L426.1 372L425.4 373.2L424.8 374.4L422.5 373.6L421.8 374.7L421.2 375.8L420.5 376.8L419.8 377.9L419.2 378.9L418.5 379.9L417.8 380.9L417.1 381.8L416.4 382.8L415.6 383.7L416.1 387.4L415.3 388.3L414.5 389.2L413.7 390.1L412.9 390.9L412.1 391.8L410.4 389.4L409.6 390.1L408.8 390.8L408.1 391.5L407.3 392.2L406.5 392.8L405.7 393.4L405 394L404.2 394.5L403.4 395.1L402.6 395.6L402.2 399.7L401.3 400.2L400.5 400.7L399.7 401.1L398.8 401.5L398 402L397.2 398.6L396.4 399L395.6 399.3L394.8 399.7L394 400L393.3 400.3L392.5 400.5L391.7 400.8L391 401L390.2 401.2L388.9 405.3L388.1 405.5L387.3 405.6L386.5 405.7L385.7 405.7L384.9 405.8L384.9 401.7L384.2 401.7L383.5 401.6L382.8 401.5L382.1 401.4L381.3 401.3L380.6 401.1L380 401L379.2 400.8L378.6 400.6L377.9 400.4L375.9 404.1L375.1 403.8L374.4 403.5L373.7 403.2L373 402.8L372.4 402.4L373.3 398.2L372.6 397.8L372 397.3L371.3 397.1L370.5 397L369.7 396.9L368.9 396.8L368.1 396.6L367.4 396.4L366.6 396.2" style="stroke-width:1.4"/>
<!-- seal -->
<path class="l" d="M160 252.5L160 267.5"/>
<ellipse class="l" cx="163.3" cy="278.8" rx="9.2" ry="11.9" transform="rotate(15 163.3 278.8)"/>
<path class="l" d="M166.4 288.7C165.7 288.9 165.6 289.3 164.2 289.3C162.8 289.3 163.4 289.5 162.2 288.8C160.9 288.1 161.4 288.6 160.5 287.3C159.6 286 159.9 286.7 159.4 284.9C158.9 283.1 159 284 159 281.9C159 279.9 158.9 280.8 159.3 278.7C159.8 276.6 159.5 277.5 160.4 275.6C161.3 273.6 160.8 274.4 162 272.9C163.2 271.3 162.6 271.9 164 270.9C165.5 270 164.8 270.3 166.3 270C167.7 269.7 167.1 269.7 168.4 270.1C169.7 270.5 169.2 270.2 170.2 271.3C171.2 272.4 170.9 271.8 171.5 273.4C172.2 275.1 171.9 275.3 172.2 276.2"/>
<path class="k" d="M167.1 283.9C166.6 284.2 166.6 284.6 165.6 284.8C164.7 285.1 165 285.1 164.2 284.6C163.4 284.2 163.7 284.5 163.2 283.4C162.7 282.3 162.8 282.8 162.8 281.4C162.8 279.9 162.7 280.5 163.1 279C163.5 277.5 163.3 278.1 164 276.8C164.8 275.6 164.4 276 165.4 275.3C166.3 274.6 165.9 274.7 166.9 274.7C167.8 274.7 167.5 274.6 168.2 275.3C168.9 276 168.7 276.3 169 276.8"/>
<path class="t" d="M163 275.9C163.5 275.2 163.4 274.9 164.6 273.7C165.7 272.5 165.2 272.9 166.5 272.3C167.8 271.7 167.2 271.8 168.4 272C169.7 272.1 169.2 271.9 170.2 272.8C171.2 273.6 170.8 273.1 171.4 274.5C172 276 171.8 276.2 172 277.1"/>
<!-- bolt -->
<path class="b" d="M458.3 244.6L474.5 248.2L473.2 255.8L458 251.6Z " style="fill:#444"/>
<path class="k" d="M458.3 244.6C457.7 245.7 456.7 245.7 456.6 248C456.5 250.3 457.5 250.4 458 251.6"/>
<path class="t" d="M460.5 245.3L459 250.9" style="stroke:#fff;stroke-width:0.9"/>
<path class="t" d="M463 245.9L461.5 251.5" style="stroke:#fff;stroke-width:0.9"/>
<path class="t" d="M465.5 246.5L464 252.1" style="stroke:#fff;stroke-width:0.9"/>
<path class="t" d="M468 247L466.5 252.6" style="stroke:#fff;stroke-width:0.9"/>
<path class="t" d="M470.5 247.6L469 253.2" style="stroke:#fff;stroke-width:0.9"/>
<path class="t" d="M473 248.2L471.5 253.8" style="stroke:#fff;stroke-width:0.9"/>
<path class="w" d="M474 247.8L477.6 246L483.8 248.6L486.4 253L484.6 258.2L482 260.9L475 260L472.8 257.4Z"/>
<path class="t" d="M477.6 246L476.6 251.5L475 260"/>
<path class="t" d="M476.6 251.5L480 252"/>
<ellipse class="w" cx="482.9" cy="254.3" rx="3.4" ry="6.4" transform="rotate(12 482.9 254.3)"/>
<path class="k" d="M474 247.8L472.8 257.4"/>
<!-- bearing -->
<path class="l" d="M491.8 342L491.8 307.8L547.8 307.8L547.8 329"/>
<path class="l" d="M519.8 304.5L519.8 307.8"/>
<path class="l" d="M547.8 342L547.8 360"/>
<path class="l" d="M486 340.8C483 341.1 482 339.6 477 341.8C472 344 474.3 342.3 471 347.3C467.7 352.3 468.7 349.9 467.2 356.7C465.7 363.5 466 360.9 466.4 367.7C466.8 374.5 466.4 372 468.5 377C470.6 382 469.9 380.3 472.8 382.6C475.6 384.9 475.6 383.5 477 384"/>
<path class="l" d="M488 343C485.8 345 484.9 344.2 481.2 349C477.6 353.8 479 351.3 477 357.5C475 363.7 475.6 361.2 475.3 367.7C475 374.2 475.1 371.9 476.2 377C477.3 382.1 477.9 381 478.7 383"/>
<path class="k" d="M473.5 371C473.8 373.3 473.2 373.8 474.5 378C475.8 382.2 474.7 380.8 477.5 383.5C480.3 386.2 481.2 385.2 483 386"/>
<path class="l" d="M488.9 348.2C486.9 351.3 485.8 351 483 357.5C480.2 364 481 361.2 480.4 367.7C479.8 374.2 479.8 371.6 481.2 377C482.7 382.4 482.1 380.8 484.7 383.9C487.2 387 487.5 385.6 488.9 386.4"/>
<path class="l" d="M481 360.5L480.3 365" style="stroke:#555;stroke-width:2.2"/>
<path class="l" d="M480.6 370L481.3 376.5" style="stroke:#555;stroke-width:2"/>
<path class="t" d="M482 345L487 342.5"/>
<path class="l" d="M491.5 341.4C493.5 341.1 494 340.5 497.4 340.4C500.8 340.3 500.3 340.8 501.7 341"/>
<path class="l" d="M501.7 341L502.5 344.8"/>
<path class="l" d="M502.5 344.8C503.6 346.2 503.3 345 505.9 349C508.5 353 507.9 352.4 510.2 356.7C512.5 360.9 511.7 358.6 512.7 361.8C513.7 364.9 513.7 362 513.1 366C512.5 370 512.5 369.2 511 373.7C509.5 378.2 510.8 376.5 508.5 379.6C506.2 382.7 506.8 381.5 504.2 383C501.6 384.5 501.9 383.8 500.8 384.2"/>
<path class="l" d="M487 343.5L491 345.5L495 343.2L499 344.5L501.5 343"/>
<path class="k" d="M489.5 347.5L491 344"/>
<path class="l" d="M488.9 386.4L489.8 390.7L496.6 390.7L497 394L505 390.7L506.8 388.1L505 385.6L500.8 387.3"/>
<path class="t" d="M497.5 391.5L504 388.5"/>
<path class="t" d="M496.6 390.7L500.8 387.3"/>
<path class="l" d="M489.8 357.5L492.3 355L499.1 352.4L506.3 353.2L510.5 357"/>
<path class="l" d="M489.8 357.5L493.2 358.4L500 358.4L506.3 353.2"/>
<path class="l" d="M489.8 357.5C489 360.3 488.2 360.3 487.6 366C487 371.7 486.7 369.7 488 374.5C489.3 379.3 490.3 378.5 491.5 380.5"/>
<path class="l" d="M491.5 380.5L500 382.2L504.2 383"/>
<path class="l" d="M500 358.4C499.1 360.9 498.1 360.6 497.4 366C496.7 371.4 496.9 369.1 497.8 374.5C498.7 379.9 499.3 379.6 500 382.2"/>
<path class="l" d="M497.5 368L497.6 373" style="stroke:#555;stroke-width:2.2"/>
<ellipse class="l" cx="505.6" cy="368" rx="5.3" ry="9" transform="rotate(8 505.6 368)" style="stroke-width:1.9"/>
<path class="t" d="M503 365.2C503.3 364.4 503.2 364.1 504.1 362.9C505 361.6 504.5 362 505.6 361.3C506.6 360.6 506.1 360.8 507.2 360.8C508.2 360.7 507.8 360.6 508.7 361.3C509.6 361.9 509.3 361.5 509.9 362.8C510.6 364 510.4 364.3 510.6 365"/>
<!-- clip -->
<path class="l" d="M540.1 355C538.4 355.7 538.2 355.5 535 357C531.8 358.5 532.2 357.4 530.5 359.4C528.8 361.4 528.8 361.3 530 363C531.2 364.7 531.2 364.3 534 364.4C536.8 364.5 536.5 364.8 538.4 363.4C540.3 362 539.3 361.3 539.7 360.2"/>
<path class="l" d="M539.7 360.2L541.4 359.6"/>
<path class="l" d="M540.1 355L547.8 360.8L554.6 365.6L554.6 381.3L543.6 395.3"/>
<path class="l" d="M543.6 395.3L535.3 398.4L533.1 401.9L535.3 404.5L538.8 404.9L541.9 400.1L545.4 397.5L546.2 395.8L550.2 397.5"/>
<!-- fork -->
<path class="l" d="M503.8 461.2C505 460.4 502.1 462.9 507.5 458.8C512.9 454.6 511.7 455.4 520 448.8C528.3 442.1 524.2 446.2 532.5 438.8C540.8 431.2 536.7 435.4 545 426.2C553.3 417.1 549.2 420.7 557.5 411.2C565.8 401.8 563.2 405.8 570 398C576.8 390.2 572.3 394.3 578 388C583.7 381.7 581 384.3 587 379C593 373.7 591.7 376.3 596 372C600.3 367.7 597.3 369.3 600 366C602.7 362.7 600.7 364.2 604 362C607.3 359.8 606.7 360.3 610 359.5C613.3 358.7 611.8 358.8 614 359.5C616.2 360.2 615.8 359.7 616.5 361.5C617.2 363.3 617.2 362.5 616 365C614.8 367.5 614 367.7 613 369"/>
<path class="l" d="M613 369C614 369.2 614.5 368.7 616 369.5C617.5 370.3 617.5 370.2 617.5 371.5C617.5 372.8 617.8 372 616 373.5C614.2 375 615 373.2 612 376C609 378.8 610 377.3 607 382C604 386.7 604.7 385 603 390C601.3 395 601.8 392 602 397C602.2 402 601.8 400.3 603.5 405C605.2 409.7 604.2 408.9 607 411C609.8 413.1 608.7 412.3 612 411.3C615.3 410.3 614 410.8 617 408C620 405.2 618.5 405.8 621 403C623.5 400.2 621.8 400.9 624.5 399.5C627.2 398.1 626.5 398.5 629 398.8C631.5 399.1 631 399.1 632 400.5C633 401.9 634 400.5 632 403C630 405.5 628 406.3 626 408"/>
<path class="l" d="M602.5 374.5L615.5 362.5"/>
<path class="t" d="M603.8 375.3L616.3 363.8"/>
<path class="l" d="M600 380C598.3 383.3 597.5 384.3 595 390C592.5 395.7 593 391.7 592.5 397C592 402.3 592.3 401.3 593.5 406C594.7 410.7 593.2 408 596 411C598.8 414 597.3 413.3 602 415C606.7 416.7 604.7 416.5 610 416.2C615.3 415.9 612.7 416.5 618 414C623.3 411.5 623.3 410.4 626 408.6"/>
<path class="l" d="M626 408C627.3 407.8 627.5 406.9 630 407.3C632.5 407.7 632.5 407.7 633.5 409.3C634.5 410.9 634.2 410.1 633 412C631.8 413.9 631.7 412.3 630 415C628.3 417.7 630 416.3 628 420C626 423.7 626.7 422.7 624 426C621.3 429.3 621.3 428.7 620 430"/>
<path class="l" d="M630.5 412.5L628.5 416" style="stroke:#444;stroke-width:2"/>
<path class="l" d="M620 414C619.7 415 621.7 414.3 619 417C616.3 419.7 618.3 419 612 422C605.7 425 609 423.3 600 426C591 428.7 590 428.7 585 430"/>
<path class="l" d="M503.8 461.2C503.5 462.5 503.4 460.8 503 465C502.6 469.2 502 468.8 502.5 473.8C503 478.8 502.3 476.9 504.4 480C506.5 483.1 507.3 482 508.8 483"/>
<path class="l" d="M508.8 483L513.8 483L516.9 485.6L523 485.6L523.8 483.8L524.4 481.2L531.2 478.8L535 476.2L535.6 472.5"/>
<path class="k" d="M517.5 485.3L522.5 485.3"/>
<path class="l" d="M504 462L513.8 462.6L513.8 464.6"/>
<path class="l" d="M505 463.2L512.5 463.6" style="stroke:#555;stroke-width:1.6"/>
<path class="l" d="M535.6 472.5C538.7 470.8 537.7 471.2 545 467.5C552.3 463.8 547.5 466.1 557.5 461.2C567.5 456.4 562.5 458.8 575 453C587.5 447.2 582.7 449.9 595 443.8C607.3 437.6 603.7 439.1 612 434.5C620.3 429.9 617.3 431.5 620 430"/>
<path class="l" d="M513.8 464.4L525 458"/>
<path class="l" d="M525 458L527.5 458.8"/>
<path class="l" d="M527.5 458.8C529.2 456.7 526.7 457.9 532.5 452.5C538.3 447.1 536.7 449.2 545 442.5C553.3 435.8 549.2 438.8 557.5 432.5C565.8 426.2 562.5 429.2 570 423.8C577.5 418.3 574.2 421.7 580 416.2C585.8 410.8 583.7 412.9 587.5 407.5C591.3 402.1 588.8 405.8 591.5 400C594.2 394.2 592.7 396.7 595.5 390C598.3 383.3 598.5 383.3 600 380"/>
<path class="l" d="M517.5 481.2C518.3 480 516.7 481.7 520 477.5C523.3 473.3 521.2 474.6 527.5 468.8C533.8 462.9 530.8 465.4 538.8 460C546.7 454.6 545 457.1 551.2 452.5C557.5 447.9 551.2 452.5 557.5 446.2C563.8 440 563.3 440.7 570 433.8C576.7 426.8 573.3 428.9 577.5 425.5C581.7 422.1 576.7 426.5 582.5 423.5C588.3 420.5 588.2 419 595 416.5C601.8 414 600.3 416.2 603 416"/>
<path class="l" d="M557.5 447.5C558.3 445.8 555.8 446.2 560 442.5C564.2 438.8 562.5 440.4 570 436.2C577.5 432.1 574.2 433.3 582.5 430C590.8 426.7 586.5 428.8 595 426.2C603.5 423.8 600.3 425.2 608 422.5C615.7 419.8 614.7 419.5 618 418"/>
<path class="t" d="M558.5 445C564 439.6 566.2 436.2 575 428.8C583.8 421.2 578.3 425.8 585 422.5C591.7 419.2 591.7 420 595 418.8"/>
<path class="l" d="M552.5 449.4L561.2 451.2L560 453.8L555 454.4Z"/>
<path class="k" d="M556 450.5L557.5 453.8"/>
<path class="l" d="M546.2 432.5C546.8 431.3 546.8 430.7 548 429C549.2 427.3 549.5 427.2 550 427.5C550.5 427.8 549.7 429.2 549.5 430"/>
<path class="l" d="M508.9 470.2C509.3 469.7 509.1 469.4 510.2 468.6C511.3 467.9 510.8 468.1 512.1 467.9C513.3 467.8 512.8 467.7 514 468.2C515.2 468.7 514.8 468.4 515.6 469.4C516.5 470.5 516.2 470 516.6 471.3C516.9 472.7 516.9 472.1 516.6 473.5C516.3 474.8 516.6 474.3 515.8 475.4C515 476.5 515.4 476.1 514.2 476.7C513 477.3 513.5 477.2 512.3 477.1C511 477 511 476.7 510.4 476.5"/>
<path class="t" d="M511.3 469.8C511.7 469.9 511.8 469.7 512.5 469.9C513.3 470.2 513 470 513.6 470.6C514.2 471.2 514 470.9 514.2 471.8C514.5 472.6 514.5 472.3 514.4 473.1C514.3 474 514.4 473.7 514 474.4C513.5 475.2 513.4 475.1 513.1 475.4"/>
<path class="l" d="M576.2 453.3L576.2 475.6"/>
<path class="t" d="M580 415C581 413.7 580.8 412 583 411C585.2 410 585.3 411.7 586.5 412"/>
<ellipse class="t" cx="582" cy="417.5" rx="1" ry="1.2"/>
<path class="t" d="M596 408L599.5 409L600.5 412.5"/>
<path class="l" d="M602 413.5L608 415" style="stroke-width:2.2"/>
<!-- pivot -->
<path class="l" d="M635.2 440L635.2 458.5"/>
<path class="l" d="M638.9 432.3L645.9 434.7"/>
<path class="l" d="M638 439L644.6 441.2"/>
<ellipse class="w" cx="634.7" cy="434.9" rx="3.9" ry="4.8" style="stroke-width:2"/>
<path class="t" d="M634.6 431L634.2 438.5"/>
<path class="w" d="M645.9 433.4L651.1 431.6L656.4 433.8L657.7 437.8L656.4 444.8L652 447.8L645.9 446L644.1 441.2Z" style="stroke-width:2"/>
<path class="t" d="M649.5 432.5L648 439L648.5 446.5"/>
<path class="t" d="M648 439.5L650.5 440.5"/>
<ellipse class="w" cx="653.6" cy="440.6" rx="2.3" ry="4.6" transform="rotate(8 653.6 440.6)" style="stroke-width:1.8"/>
<path class="l" d="M657.6 438.2L663.2 440.3"/>
<path class="l" d="M656.4 444.3L662 445.3"/>
<ellipse class="w" cx="660.8" cy="442.4" rx="2.3" ry="2.9" style="stroke-width:1.8"/>
<ellipse class="t" cx="658" cy="441.3" rx="1.2" ry="2.4"/>
<!-- boot -->
<path class="l" d="M469.6 530L469.6 548"/>
<path class="l" d="M441.5 503C443.7 503.5 442.5 502.8 448 504.5C453.5 506.2 452.3 505.7 458 508C463.7 510.3 462.7 510.3 465 511.5"/>
<path class="l" d="M465 511.5L475 527L476 529.2"/>
<path class="l" d="M476 529.2C473.3 529 474 529.7 468 528.5C462 527.3 465 527.7 458 525.5C451 523.3 452 524.5 447 522C442 519.5 445 521.3 443 518C441 514.7 441.5 517 441 512C440.5 507 441.3 506 441.5 503"/>
<path class="l" d="M445 501.5L445.6 497.6"/>
<path class="l" d="M445.6 497.6C446.1 497.4 443.9 496.4 447 497C450.1 497.6 448 497.2 455 499.5C462 501.8 461.7 501.3 468 504C474.3 506.7 472 506.3 474 507.5"/>
<path class="l" d="M474 507.5L479 516L484 525L485 527.2"/>
<path class="l" d="M476 529.2L485 527.2"/>
<path class="l" d="M449.5 497L450.1 493.4"/>
<path class="l" d="M450.1 493.4C450.6 493.3 446.5 491.8 451.5 493C456.5 494.2 456.5 494.3 465 497C473.5 499.7 471.3 498.7 477 501C482.7 503.3 480.3 503 482 504"/>
<path class="l" d="M482 504L484.5 508"/>
<path class="l" d="M454 492.5L454.6 488.4"/>
<path class="l" d="M454.6 488.4C455.1 488.3 450.9 487 456 488C461.1 489 461 489 470 491.5C479 494 477.7 492.8 483 495.5C488.3 498.2 485 498.2 486 499.5"/>
<path class="l" d="M486 499.5L491 507"/>
<path class="l" d="M459.5 487.5L460 483.3"/>
<path class="l" d="M460 483.3C460.5 483.2 455.8 482.3 461.5 483C467.2 483.7 466.8 483.7 477 485.5C487.2 487.3 487 487.5 492 488.5"/>
<path class="l" d="M492 488.5L507 512.5"/>
<path class="t" d="M463 485L491 489.6L505 513"/>
<path class="l" d="M464 487L489 491.5L502 513"/>
<path class="t" d="M461 490.5L485 494.5L495 508"/>
<path class="l" d="M475 486.5L480 487.3" style="stroke:#666;stroke-width:2"/>
<path class="l" d="M462 490.3L468 491.3" style="stroke:#666;stroke-width:1.8"/>
<path class="l" d="M479 507L493 512L497 513L504 521L500 525L495 522L489 523.5L485 522L480 510L479 507"/>
<path class="l" d="M481 510L493 513.2"/>
<path class="l" d="M495 515L500 522"/>
<path class="l" d="M507 512.5L504 515.5L504 521"/>
<path class="l" d="M485 527.2L486 525L489 523.5"/>
<path class="t" d="M478.3 506.5L482.5 505.6"/>
<ellipse class="b" cx="489.5" cy="524" rx="1.2" ry="1"/>
<path class="t" d="M496 521L498.5 525.5"/>
<path class="l" d="M442 512C443 511.3 441.3 509.8 445 510C448.7 510.2 449 510.2 453 512.5C457 514.8 455.2 513.3 457 517C458.8 520.7 458 521.3 458.5 523.5"/>
<path class="l" d="M444.5 513.5L450 514.5L454.5 518L454.5 522.5L448 520L445 516.5Z"/>
<path class="k" d="M452 520L454.5 520.8"/>
<!-- clipsA -->
<path class="l" d="M148.5 719.7L154.9 714.4L151 687.8L151.7 681.4L177.8 665.5L202.7 665.5L229.2 680.4L229.2 688.9L227.1 712.2L232.4 719.7" style="stroke:#3a3a3a;stroke-width:2.6"/>
<path class="l" d="M154.9 714.4L158.3 710L157.3 690L155 690L155.5 711" style="stroke:#3a3a3a;stroke-width:1.6"/>
<path class="l" d="M227.1 712.2L221.8 707L222.9 687.8L225 688L224.3 709" style="stroke:#3a3a3a;stroke-width:1.6"/>
<path class="l" d="M221.8 707L232.4 719.7" style="stroke:#3a3a3a;stroke-width:2.2"/>
<path class="t" d="M176.1 649.6L176.1 662.3"/>
<path class="t" d="M203.3 649.6L203.3 662.3"/>
<path class="t" d="M176.1 655.5L203.3 655.5"/>
<path d="M176.1 655.5L181.1 654L181.1 657Z" fill="#000"/>
<path d="M203.3 655.5L198.3 654L198.3 657Z" fill="#000"/>
<text x="208" y="660.2" textLength="12.8" lengthAdjust="spacingAndGlyphs" style="font-size:12px" >20</text>
<path class="t" d="M148.5 721.8L148.5 738.8"/>
<path class="t" d="M232.9 721.8L232.9 738.8"/>
<path class="t" d="M148.5 733.5L232.9 733.5"/>
<path d="M148.5 733.5L153.5 732L153.5 735Z" fill="#000"/>
<path d="M232.9 733.5L227.9 732L227.9 735Z" fill="#000"/>
<text x="176.1" y="730.3" textLength="24.5" lengthAdjust="spacingAndGlyphs" style="font-size:12px" >72.6</text>
<path class="l" d="M278.1 665L278.1 684" style="stroke:#555;stroke-width:2.4"/>
<path class="l" d="M278.1 684L280.2 684L280.2 711.2L275 711.2L275 719.7L265.4 719.7L263.2 712.2L263.2 705.9L273.9 694.2" style="stroke:#222;stroke-width:1.7"/>
<path class="l" d="M273.9 694.2L266.4 687.8" style="stroke:#3a3a3a;stroke-width:2.6"/>
<path class="t" d="M265.4 724L265.4 741"/>
<path class="t" d="M278.1 713L278.1 741"/>
<path class="t" d="M244 735.2L293 735.2"/>
<path d="M265.4 735.2L260.4 733.7L260.4 736.7Z" fill="#000"/>
<path d="M278.1 735.2L283.1 733.7L283.1 736.7Z" fill="#000"/>
<text x="239.4" y="731.8" textLength="23.8" lengthAdjust="spacingAndGlyphs" style="font-size:12px" >11.7</text>
<!-- clipsB -->
<path class="l" d="M320.9 685.6C321.2 685.1 320.8 686.5 321.8 684.1C322.9 681.8 322.3 682.1 324.2 678.6C326.1 675 325 676.7 327.6 673.4C330.1 670.1 328.7 671.6 331.9 668.8C335 665.9 333.4 667.2 337 664.8C340.7 662.4 338.8 663.4 342.9 661.6C346.9 659.7 344.9 660.5 349.2 659.2C353.6 658 351.4 658.4 356 657.8C360.5 657.1 358.3 657.3 362.9 657.3C367.5 657.3 365.3 657.1 369.8 657.8C374.4 658.4 372.2 658 376.6 659.2C380.9 660.5 378.9 659.7 382.9 661.6C387 663.4 385.1 662.4 388.8 664.8C392.4 667.2 390.8 665.9 393.9 668.8C397.1 671.6 395.7 670.1 398.2 673.4C400.8 676.7 399.7 675 401.6 678.6C403.5 682.1 402.9 681.5 404 684.1C405 686.8 404.6 685.8 404.9 686.6" style="stroke:#3a3a3a;stroke-width:2.4"/>
<path class="l" d="M320.9 685.6L320.9 701.5L325.2 708.9" style="stroke:#3a3a3a;stroke-width:2.4"/>
<path class="l" d="M330.5 685.6L330.5 708.9L336.9 718.5L332.6 723.8L319.9 723.8L326.2 714.2L330.5 708.9" style="stroke:#222;stroke-width:1.8"/>
<path class="l" d="M319.9 723.8L332.6 723.8" style="stroke:#3a3a3a;stroke-width:2.6"/>
<path class="l" d="M323.5 687L323.5 700" style="stroke:#666;stroke-width:1.2"/>
<path class="l" d="M404.9 686.6L404.9 701.5L400.6 707.9" style="stroke:#3a3a3a;stroke-width:2.4"/>
<path class="l" d="M398.5 686.6L398.5 708.9L394.2 716.4L396.4 723.2L411.2 723.8L404.9 714.2L400.6 707.9" style="stroke:#222;stroke-width:1.8"/>
<path class="l" d="M396.4 723.5L411.2 723.8" style="stroke:#3a3a3a;stroke-width:2.6"/>
<path class="l" d="M402 688L402 700" style="stroke:#666;stroke-width:1.2"/>
<path class="t" d="M387.9 660L431.4 660"/>
<path class="t" d="M415.5 721.7L426.1 721.7"/>
<path class="t" d="M420.8 661L420.8 720.6"/>
<path d="M420.8 660.3L419.3 665.3L422.3 665.3Z" fill="#000"/>
<path d="M420.8 721.5L419.3 716.5L422.3 716.5Z" fill="#000"/>
<text transform="translate(417.8,705) rotate(-90)" textLength="19" lengthAdjust="spacingAndGlyphs" style="font-size:12px">54</text>
<path class="t" d="M320.9 725.9L320.9 740.8"/>
<path class="t" d="M410.2 725.9L410.2 740.8"/>
<path class="t" d="M320.9 736.1L410.2 736.1"/>
<path d="M320.9 736.1L325.9 734.6L325.9 737.6Z" fill="#000"/>
<path d="M410.2 736.1L405.2 734.6L405.2 737.6Z" fill="#000"/>
<text x="358.1" y="731.9" textLength="14.9" lengthAdjust="spacingAndGlyphs" style="font-size:12px" >80</text>
<path class="l" d="M457.6 662.2L457.6 723.8" style="stroke:#555;stroke-width:2.2"/>
<path class="l" d="M457.6 723.8L443.1 723.8L441 720.6L441 704.7L450.6 694.1L443.1 685.6" style="stroke:#222;stroke-width:2.2"/>
<path class="t" d="M441.6 728L441.6 743"/>
<path class="t" d="M455.9 728L455.9 743"/>
<path class="t" d="M415.5 736.6L469.7 736.6"/>
<path d="M441.6 736.6L436.6 735.1L436.6 738.1Z" fill="#000"/>
<path d="M455.9 736.6L460.9 735.1L460.9 738.1Z" fill="#000"/>
<text x="416.6" y="734" textLength="23.3" lengthAdjust="spacingAndGlyphs" style="font-size:12px" >11.5</text>
<!-- specks -->
<rect x="490" y="781.5" width="1.2" height="1" fill="#777"/>
<rect x="543" y="653" width="1.2" height="1" fill="#777"/>
<rect x="343.5" y="632" width="1.2" height="1" fill="#777"/>
<rect x="355" y="632.3" width="1.2" height="1" fill="#777"/>
</svg>
</body></html>
